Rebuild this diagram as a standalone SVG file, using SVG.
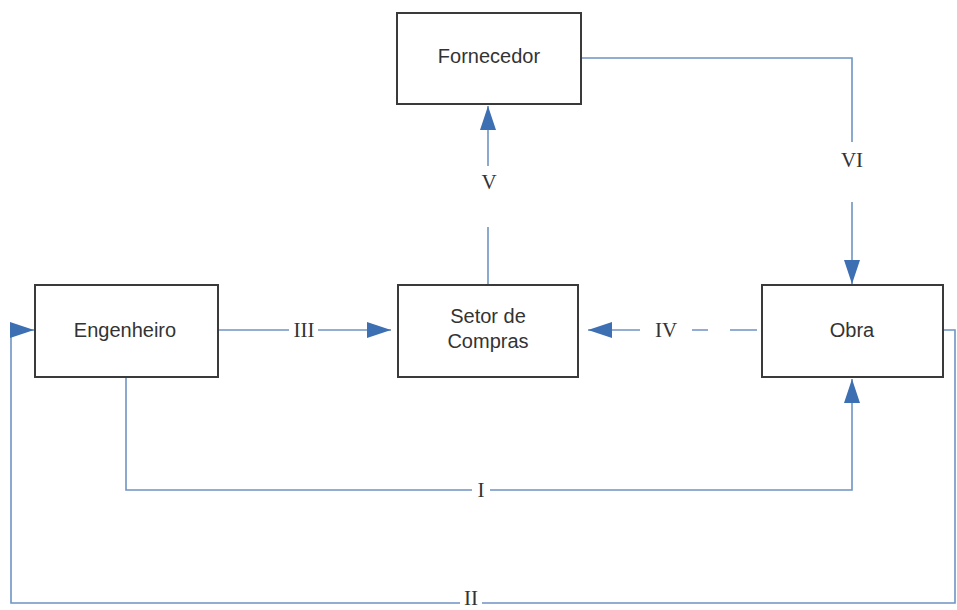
<svg xmlns="http://www.w3.org/2000/svg" width="957" height="610" viewBox="0 0 957 610">
  <style>
    .box { fill: #ffffff; stroke: #3a3a3a; stroke-width: 2; }
    .name { font-family: "Liberation Sans", Arial, sans-serif; font-size: 20px; fill: #333333; text-anchor: middle; }
    .flow { fill: none; stroke: #6f93c2; stroke-width: 1.6; }
    .step { font-family: "Liberation Serif", "Times New Roman", serif; font-size: 21px; fill: #333333; text-anchor: middle; }
  </style>
  <defs>
    <marker id="head" viewBox="0 0 24 16" refX="24" refY="8" markerWidth="24" markerHeight="16" markerUnits="userSpaceOnUse" orient="auto">
      <path d="M0,0 L24,8 L0,16 Z" fill="#3d6fb3"/>
    </marker>
  </defs>
  <rect width="957" height="610" fill="#ffffff"/>

  <g id="connectors">
    <!-- I: Engenheiro to Obra, underneath -->
    <path class="flow" d="M126,377 V490 H472"/>
    <path class="flow" d="M490,490 H852 V379" marker-end="url(#head)"/>
    <text class="step" x="481" y="497">I</text>

    <!-- II: Obra back to Engenheiro around the outside -->
    <path class="flow" d="M943,330 H955 V603 H482"/>
    <path class="flow" d="M460,603 H11 V330 H34" marker-end="url(#head)"/>
    <text class="step" x="471" y="605" font-size="20">II</text>

    <!-- III: Engenheiro to Setor de Compras -->
    <path class="flow" d="M218,330 H289"/>
    <path class="flow" d="M318,330 H391" marker-end="url(#head)"/>
    <text class="step" x="304" y="337">III</text>

    <!-- IV: Obra to Setor de Compras, dashed part then solid -->
    <path class="flow" d="M757,330 H730 M708,330 H692"/>
    <path class="flow" d="M640,330 H588" marker-end="url(#head)"/>
    <text class="step" x="666" y="337">IV</text>

    <!-- V: Setor de Compras to Fornecedor -->
    <path class="flow" d="M488,285 V227"/>
    <path class="flow" d="M488,166 V106" marker-end="url(#head)"/>
    <text class="step" x="489" y="189">V</text>

    <!-- VI: Fornecedor to Obra -->
    <path class="flow" d="M581,58 H852 V142"/>
    <path class="flow" d="M852,202 V284" marker-end="url(#head)"/>
    <text class="step" x="852" y="167">VI</text>
  </g>

  <g id="fornecedor">
    <rect class="box" x="397" y="13" width="184" height="91"/>
    <text class="name" x="489" y="63">Fornecedor</text>
  </g>
  <g id="engenheiro">
    <rect class="box" x="35" y="285" width="183" height="92"/>
    <text class="name" x="125" y="337">Engenheiro</text>
  </g>
  <g id="setor-de-compras">
    <rect class="box" x="398" y="285" width="180" height="92"/>
    <text class="name" x="488" y="323">Setor de</text>
    <text class="name" x="488" y="348">Compras</text>
  </g>
  <g id="obra">
    <rect class="box" x="762" y="285" width="181" height="92"/>
    <text class="name" x="852" y="337">Obra</text>
  </g>
</svg>
